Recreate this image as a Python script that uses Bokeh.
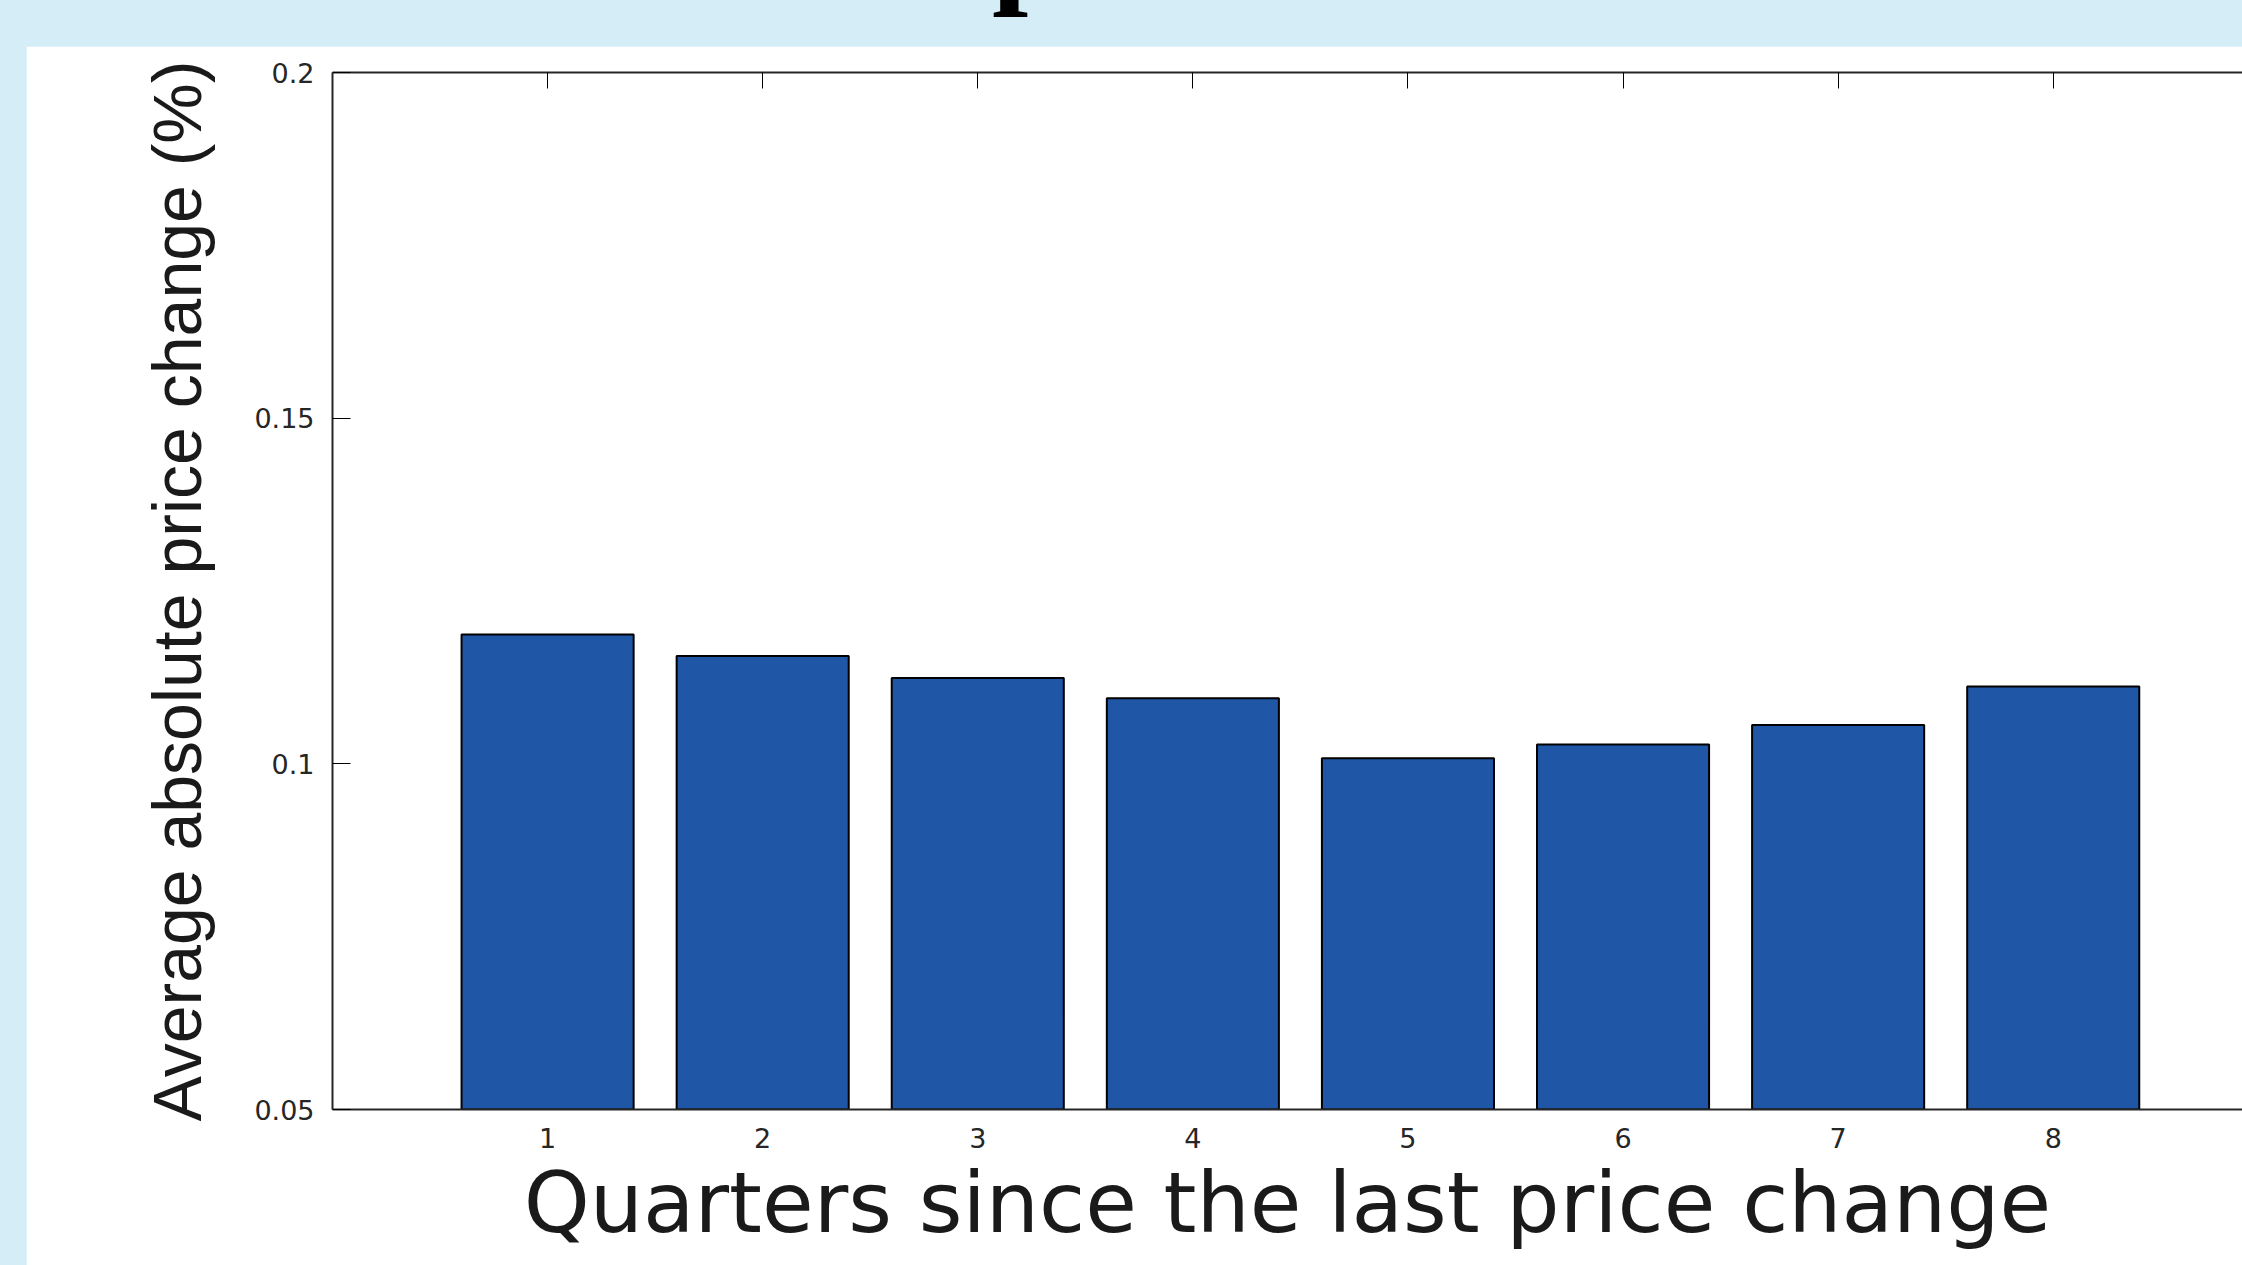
from bokeh.plotting import figure
from bokeh.models import FixedTicker, LinearAxis, Range1d, Div, Spacer, ColumnDataSource
from bokeh.layouts import column, row
from bokeh.embed import file_html
from bokeh.resources import INLINE

# ---- data ----
quarters = [1, 2, 3, 4, 5, 6, 7, 8]
avg_abs_change = [0.1187, 0.1156, 0.1124, 0.1095, 0.1008, 0.1028, 0.1056, 0.1112]
x_tick_labels = ["1", "2", "3", "4", "5", "6", "7", "8"]
y_ticks = [0.05, 0.1, 0.15, 0.2]
y_tick_labels = ["0.05", "0.1", "0.15", "0.2"]
x_label = "Quarters since the last price change"
y_label = "Average absolute price change (%)"
title_fragment = "p"

# ---- styling ----
BG = "#d5edf7"
BAR = "#1f57a6"
AX = "#262626"
W, H = 2242, 1265
PANEL_LEFT, PANEL_TOP = 26, 46

src = ColumnDataSource(data=dict(q=quarters, v=avg_abs_change))

p = figure(width=W - PANEL_LEFT, height=H - PANEL_TOP,
           x_range=Range1d(0, 8.88), y_range=Range1d(0.05, 0.2),
           output_backend="svg", toolbar_location=None,
           min_border_left=306, min_border_right=0,
           min_border_top=26, min_border_bottom=156,
           background_fill_color="white", border_fill_color="white",
           outline_line_color=None)
p.title.visible = False
p.xgrid.grid_line_color = None
p.ygrid.grid_line_color = None

p.vbar(x="q", top="v", bottom=0, width=0.8, source=src,
       fill_color=BAR, line_color="black", line_width=2)

xa = p.xaxis[0]
xa.ticker = FixedTicker(ticks=quarters)
xa.major_label_overrides = {q: lab for q, lab in zip(quarters, x_tick_labels)}
xa.major_tick_in = 0
xa.major_tick_out = 0
xa.minor_tick_in = 0
xa.minor_tick_out = 0
xa.major_label_standoff = 18
xa.major_label_text_font = "DejaVu Sans"
xa.major_label_text_font_size = "27px"
xa.major_label_text_color = AX
xa.axis_line_color = AX
xa.axis_line_width = 2
xa.axis_label = x_label
xa.axis_label_text_font = "DejaVu Sans"
xa.axis_label_text_font_size = "84px"
xa.axis_label_text_font_style = "normal"
xa.axis_label_text_color = "#1a1a1a"
xa.axis_label_standoff = 3

ya = p.yaxis[0]
ya.ticker = FixedTicker(ticks=y_ticks)
ya.major_label_overrides = {t: lab for t, lab in zip(y_ticks, y_tick_labels)}
ya.major_tick_in = 18
ya.major_tick_out = 0
ya.minor_tick_in = 0
ya.minor_tick_out = 0
ya.major_label_standoff = 18
ya.major_label_text_font = "DejaVu Sans"
ya.major_label_text_font_size = "27px"
ya.major_label_text_color = AX
ya.axis_line_color = AX
ya.axis_line_width = 2
ya.axis_label = y_label
ya.axis_label_text_font = "Liberation Sans"
ya.axis_label_text_font_size = "68px"
ya.axis_label_text_font_style = "normal"
ya.axis_label_text_color = "#1a1a1a"
ya.axis_label_standoff = 36

top_axis = LinearAxis(ticker=FixedTicker(ticks=quarters),
                      major_tick_in=16, major_tick_out=0,
                      minor_tick_in=0, minor_tick_out=0,
                      major_label_standoff=0,
                      major_label_text_font_size="0px",
                      major_label_overrides={q: "" for q in quarters},
                      axis_line_color=AX, axis_line_width=2)
p.add_layout(top_axis, "above")

frag_html = (
    f'<div style="position:relative;width:{W}px;height:{PANEL_TOP}px;overflow:hidden;">'
    '<span style="position:absolute;left:992px;top:-120px;'
    "font-family:'Liberation Serif';font-weight:bold;font-size:130px;"
    f'line-height:130px;color:#000;">{title_fragment}</span></div>'
)
top_div = Div(text=frag_html, width=W, height=PANEL_TOP, margin=0,
              styles={"overflow": "hidden"})

root = column(
    top_div,
    row(Spacer(width=PANEL_LEFT, height=H - PANEL_TOP), p, spacing=0),
    spacing=0,
    styles={"background-color": BG},
)

open("out.html", "w").write(file_html(root, INLINE))
